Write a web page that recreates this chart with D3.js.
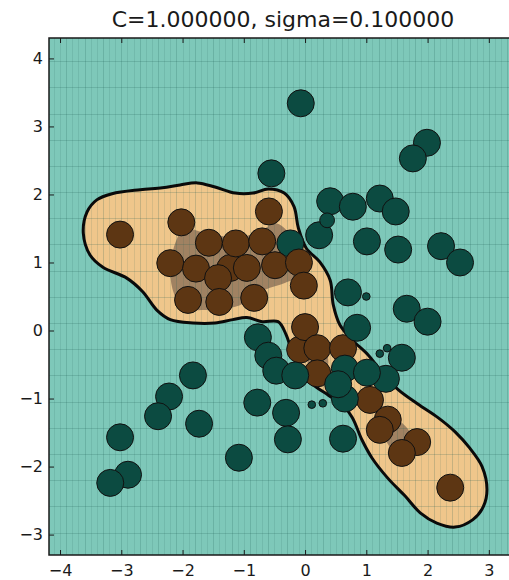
<!DOCTYPE html>
<html>
<head>
<meta charset="utf-8">
<script src="https://cdnjs.cloudflare.com/ajax/libs/d3/7.8.5/d3.min.js"></script>
<style>
body { margin: 0; background: #fff; }
svg { display: block; }
text { font-family: "DejaVu Sans", sans-serif; fill: #1a1a1a; }
</style>
</head>
<body>
<div id="graph"></div>
<script>
// training points, in draw order (0 = negative class, 1 = positive class)
var ptX = [-0.24,
  -3.02, -1.22, -2.02, -0.59, -1.57, -1.13, -0.70, -2.20, -1.78, -1.42, -0.95, -0.49, -0.10, -0.02, -1.91, -1.40, -0.83,
  -0.08, 0.00, 0.20, 0.62, 0.20, 1.06, 1.35, 1.22, 1.83, 1.58, 2.37,
  -0.07, -0.55, 1.99, 1.76, 0.41, 0.78, 1.22, 1.48, 0.23, 1.01, 1.52, 2.22, 2.53,
  0.70, 1.66, 2.00, 0.85, -0.77, -0.60, -0.47, -0.16,
  -1.83, -2.22, -2.40, -0.78, -1.73, -0.31, -3.02, -2.89, -3.18, -1.08, -0.28, 0.62,
  1.58, 1.32, 0.65, 1.01, 0.65, 0.54,
  0.36, 1.00, 1.22, 1.34, 0.11, 0.29];
var ptY = [1.28,
  1.41, 0.92, 1.59, 1.75, 1.29, 1.28, 1.31, 0.99, 0.91, 0.77, 0.92, 0.96, 1.00, 0.66, 0.45, 0.42, 0.48,
  -0.28, 0.05, -0.26, -0.26, -0.63, -1.02, -1.31, -1.46, -1.64, -1.80, -2.31,
  3.34, 2.31, 2.76, 2.53, 1.90, 1.82, 1.94, 1.75, 1.40, 1.31, 1.19, 1.24, 1.00,
  0.56, 0.32, 0.13, 0.04, -0.10, -0.37, -0.59, -0.66,
  -0.66, -0.97, -1.26, -1.06, -1.37, -1.21, -1.57, -2.12, -2.24, -1.87, -1.60, -1.59,
  -0.40, -0.71, -0.56, -0.62, -1.00, -0.79,
  1.62, 0.50, -0.34, -0.26, -1.09, -1.07];
var ptLabel = [0,
  1, 1, 1, 1, 1, 1, 1, 1, 1, 1, 1, 1, 1, 1, 1, 1, 1,
  1, 1, 1, 1, 1, 1, 1, 1, 1, 1, 1,
  0, 0, 0, 0, 0, 0, 0, 0, 0, 0, 0, 0, 0,
  0, 0, 0, 0, 0, 0, 0, 0,
  0, 0, 0, 0, 0, 0, 0, 0, 0, 0, 0, 0,
  0, 0, 0, 0, 0, 0,
  0, 0, 0, 0, 0, 0];
var ptWeight = [1,
  1, 1, 1, 1, 1, 1, 1, 1, 1, 1, 1, 1, 1, 1, 1, 1, 1,
  1, 1, 1, 1, 1, 1, 1, 1, 1, 1, 1,
  1, 1, 1, 1, 1, 1, 1, 1, 1, 1, 1, 1, 1,
  1, 1, 1, 1, 1, 1, 1, 1,
  1, 1, 1, 1, 1, 1, 1, 1, 1, 1, 1, 1,
  1, 1, 1, 1, 1, 1,
  0.3, 0.08, 0.08, 0.08, 0.08, 0.08];

// decision boundary (f = 0)
var boundX = [-3.62, -3.56, -3.40, -3.15, -2.69, -2.33, -2.04, -1.76, -1.47, -1.14, -0.85, -0.60, -0.34, -0.18, -0.11,
  0.02, 0.24, 0.41, 0.46, 0.57, 0.77, 1.03, 1.26, 1.52, 1.84, 2.17, 2.45, 2.69, 2.89, 2.97, 2.91, 2.74, 2.45,
  2.15, 1.88, 1.63, 1.35, 1.09, 0.93, 0.77, 0.60, 0.38, 0.11, -0.08, -0.21, -0.31, -0.44, -0.70, -0.95,
  -1.18, -1.47, -1.83, -2.20, -2.42, -2.65, -2.91, -3.30, -3.51];
var boundY = [1.43, 1.74, 1.92, 2.01, 2.07, 2.10, 2.14, 2.17, 2.11, 2.02, 2.02, 2.08, 2.02, 1.82, 1.51,
  1.21, 1.01, 0.74, 0.38, 0.08, -0.14, -0.36, -0.62, -0.87, -1.08, -1.28, -1.49, -1.73, -2.00, -2.34, -2.59, -2.78, -2.89,
  -2.83, -2.68, -2.43, -2.17, -1.87, -1.61, -1.28, -1.08, -0.95, -0.78, -0.58, -0.32, -0.06, 0.13, 0.13, 0.19,
  0.16, 0.11, 0.11, 0.16, 0.30, 0.57, 0.77, 0.93, 1.11];

// inner (margin) regions
var innerX = [-2.10, -1.96, -1.63, -1.22, -0.77, -0.49, -0.24, -0.08, -0.08, -0.33, -0.65, -0.90, -1.14, -1.63, -2.00, -2.14, -2.20];
var innerY = [1.33, 1.50, 1.43, 1.38, 1.43, 1.58, 1.41, 1.11, 0.82, 0.70, 0.60, 0.45, 0.35, 0.30, 0.34, 0.54, 0.89];
var patchAX = [0.05, 0.28, 0.38, 0.28, 0.11, 0.02];
var patchAY = [-0.11, -0.21, -0.46, -0.70, -0.61, -0.36];
var patchBX = [1.19, 1.42, 1.71, 1.75, 1.52, 1.31, 1.16];
var patchBY = [-1.09, -1.24, -1.49, -1.73, -1.83, -1.61, -1.31];

var xTicks = [-4, -3, -2, -1, 0, 1, 2, 3];
var yTicks = [-3, -2, -1, 0, 1, 2, 3, 4];
var title = "C=1.000000, sigma=0.100000";

var W = 509, H = 580;
var margin = {top: 38, left: 49, right: 517, bottom: 555};

var svg = d3.select("#graph").append("svg").attr("width", W).attr("height", H);

var x = d3.scaleLinear().domain([-4.18, 3.46]).range([margin.left, margin.right]);
var y = d3.scaleLinear().domain([-3.3, 4.3]).range([margin.bottom, margin.top]);
var r = d3.scaleSqrt().domain([0, 1]).range([0, 13.5]);

svg.append("defs").append("clipPath").attr("id", "clip")
  .append("rect")
  .attr("x", margin.left).attr("y", margin.top)
  .attr("width", margin.right - margin.left).attr("height", margin.bottom - margin.top);

var plot = svg.append("g").attr("clip-path", "url(#clip)");

plot.append("rect")
  .attr("x", margin.left).attr("y", margin.top)
  .attr("width", margin.right - margin.left).attr("height", margin.bottom - margin.top)
  .style("fill", "#7ec8b9");

var blob = d3.line()
  .x(function(d) { return x(d[0]); })
  .y(function(d) { return y(d[1]); })
  .curve(d3.curveCatmullRomClosed.alpha(0.5));

var boundary = d3.zip(boundX, boundY);
plot.append("path").attr("d", blob(boundary)).style("fill", "#efc68b");

[d3.zip(innerX, innerY), d3.zip(patchAX, patchAY), d3.zip(patchBX, patchBY)].forEach(function(p) {
  plot.append("path").attr("d", blob(p)).style("fill", "#a08262");
});

// pcolormesh cell edges
var mesh = plot.append("g").style("stroke", "#1f5a50").style("stroke-width", 1);
mesh.selectAll(".vl").data(d3.range(-42, 36).map(function(i) { return i / 10; }))
  .enter().append("line")
  .attr("x1", function(d) { return Math.round(x(d)) + 0.5; })
  .attr("x2", function(d) { return Math.round(x(d)) + 0.5; })
  .attr("y1", margin.top).attr("y2", margin.bottom)
  .style("stroke-opacity", function(d, i) { return i % 3 == 0 ? 0.2 : 0.12; });
mesh.selectAll(".hl").data(d3.range(0, 21).map(function(k) { return 3.96 - 0.385 * k; }))
  .enter().append("line")
  .attr("y1", function(d) { return Math.round(y(d)) + 0.5; })
  .attr("y2", function(d) { return Math.round(y(d)) + 0.5; })
  .attr("x1", margin.left).attr("x2", margin.right)
  .style("stroke-opacity", 0.2);

plot.append("path").attr("d", blob(boundary))
  .style("fill", "none").style("stroke", "#0a0a0a").style("stroke-width", 3);

var pts = d3.range(ptX.length);
plot.selectAll("circle").data(pts).enter().append("circle")
  .attr("cx", function(i) { return x(ptX[i]); })
  .attr("cy", function(i) { return y(ptY[i]); })
  .attr("r", function(i) { return r(ptWeight[i]); })
  .style("fill", function(i) { return ptLabel[i] ? "#5d3613" : "#0c4b41"; })
  .style("stroke", "#111")
  .style("stroke-width", 1);

// frame
svg.append("rect")
  .attr("x", margin.left).attr("y", margin.top)
  .attr("width", margin.right - margin.left).attr("height", margin.bottom - margin.top)
  .style("fill", "none").style("stroke", "#1a1a1a").style("stroke-width", 1.5);

var xAxis = d3.axisBottom(x).tickValues(xTicks).tickSize(-5).tickPadding(10).tickFormat(d3.format("d"));
var yAxis = d3.axisLeft(y).tickValues(yTicks).tickSize(-5).tickPadding(6).tickFormat(d3.format("d"));
var xTop = d3.axisTop(x).tickValues(xTicks).tickSize(-5).tickFormat("");

var gx = svg.append("g").attr("transform", "translate(0," + margin.bottom + ")").call(xAxis);
var gy = svg.append("g").attr("transform", "translate(" + margin.left + ",0)").call(yAxis);
var gt = svg.append("g").attr("transform", "translate(0," + margin.top + ")").call(xTop);
[gx, gy, gt].forEach(function(g) {
  g.select(".domain").remove();
  g.selectAll("line").style("stroke", "#1a1a1a");
  g.selectAll("text").style("font-size", "16px").style("font-family", "DejaVu Sans");
});

svg.append("text")
  .attr("x", (margin.left + margin.right) / 2).attr("y", 27)
  .attr("text-anchor", "middle")
  .style("font-size", "22px")
  .text(title);
</script>
</body>
</html>
